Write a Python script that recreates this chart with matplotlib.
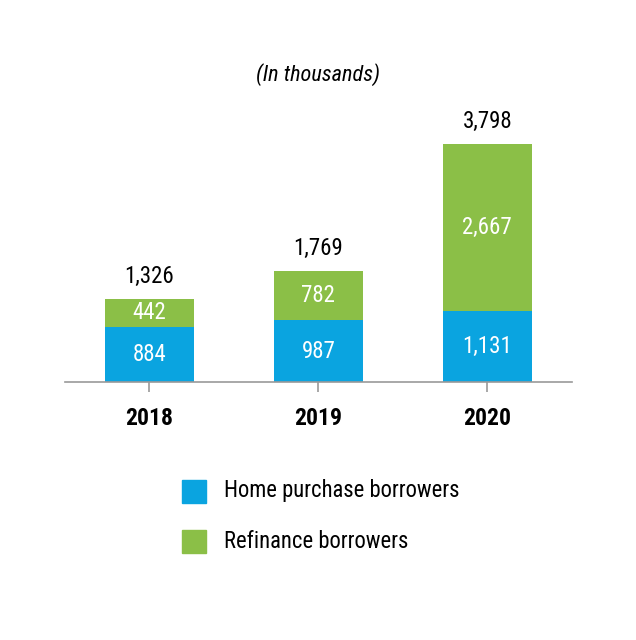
import matplotlib
matplotlib.use("Agg")
import matplotlib.pyplot as plt
from matplotlib.patches import Rectangle
from matplotlib import font_manager

names = {f.name for f in font_manager.fontManager.ttflist}
fam = ['Liberation Sans Narrow'] if 'Liberation Sans Narrow' in names else ['Roboto Condensed'] if 'Roboto Condensed' in names else ['Roboto']
plt.rcParams['font.family'] = fam + ['DejaVu Sans']

years = ['2018', '2019', '2020']
home_purchase = [884, 987, 1131]
refinance = [442, 782, 2667]
totals = [1326, 1769, 3798]
series_names = ['Home purchase borrowers', 'Refinance borrowers']
blue = '#0AA4E0'
green = '#8BBF47'

fig = plt.figure(figsize=(6.36, 6.4), dpi=100)
ax = fig.add_axes([0.102, 0.403, 0.797, 0.392])
x = list(range(len(years)))
w = 0.53
ax.bar(x, home_purchase, width=w, color=blue)
ax.bar(x, refinance, width=w, bottom=home_purchase, color=green)
for i in x:
    ax.text(i, home_purchase[i] / 2, f"{home_purchase[i]:,}", ha='center', va='center', color='white', fontsize=16.5)
    ax.text(i, home_purchase[i] + refinance[i] / 2, f"{refinance[i]:,}", ha='center', va='center', color='white', fontsize=16.5)
    ax.text(i, totals[i] + 170, f"{totals[i]:,}", ha='center', va='bottom', color='black', fontsize=16.5)
ax.set_xlim(-0.5, 2.5)
ax.set_ylim(0, 4000)
for s in ['top', 'right', 'left']:
    ax.spines[s].set_visible(False)
ax.spines['bottom'].set_color('#999999')
ax.spines['bottom'].set_linewidth(1.2)
ax.set_yticks([])
ax.set_xticks(x)
ax.set_xticklabels(years, fontsize=17, fontweight='bold')
ax.tick_params(axis='x', length=7, width=1.2, color='#999999', pad=11)

fig.text(0.5, 0.884, '(In thousands)', ha='center', va='center', fontsize=16, style='italic')

for j, (nm, col) in enumerate(zip(series_names, [blue, green])):
    yc = 1 - (491 + j * 50) / 640
    fig.patches.append(Rectangle((182 / 636, yc - 11.5 / 640), 24 / 636, 23 / 640, transform=fig.transFigure, color=col))
    fig.text(224 / 636, yc, nm, ha='left', va='center', fontsize=16.3)

fig.savefig('out.png', dpi=100)
